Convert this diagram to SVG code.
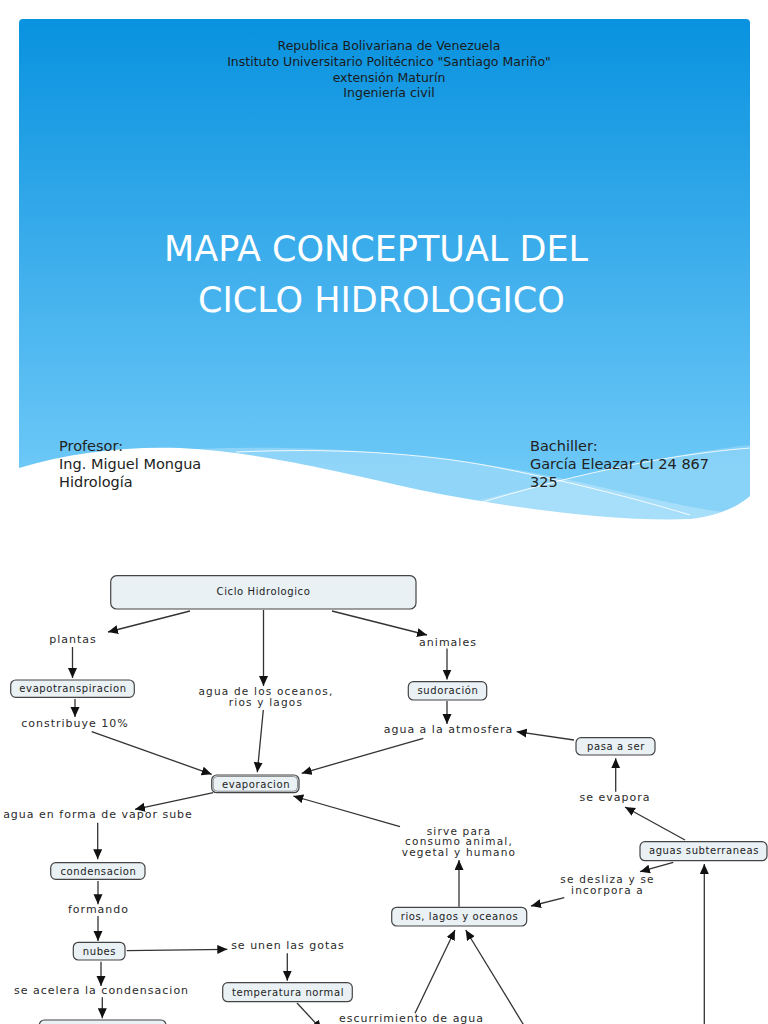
<svg xmlns="http://www.w3.org/2000/svg" width="768" height="1024" viewBox="0 0 768 1024">
<defs>
<linearGradient id="bg" x1="0" y1="19" x2="0" y2="470" gradientUnits="userSpaceOnUse">
<stop offset="0" stop-color="#0892df"/>
<stop offset="0.5" stop-color="#3aaceb"/>
<stop offset="1" stop-color="#6cc8f7"/>
</linearGradient>
<marker id="ah" markerUnits="userSpaceOnUse" markerWidth="11" markerHeight="10" refX="10" refY="4.5" orient="auto">
<path d="M0,0 L10,4.5 L0,9 Z" fill="#111"/>
</marker>
<style>
.hd{font-family:"DejaVu Sans","Noto Sans",sans-serif;font-size:12.5px;fill:#1a1a1a;text-anchor:middle}
.tt{font-family:"DejaVu Sans","Noto Sans",sans-serif;font-size:35px;fill:#ffffff}
.pf{font-family:"DejaVu Sans","Noto Sans",sans-serif;font-size:14.5px;fill:#222}
.nd{fill:#e9f1f5;stroke:#444;stroke-width:1.2}
.nt{font-family:"DejaVu Sans","Noto Sans",sans-serif;font-size:10px;letter-spacing:0.6px;fill:#222;text-anchor:middle}
.lb{font-family:"DejaVu Sans","Noto Sans",sans-serif;font-size:11px;letter-spacing:1px;fill:#2a2a2a;text-anchor:middle}
.ml{font-size:10.5px;letter-spacing:1.2px}
.cn line{stroke:#333;stroke-width:1.3;marker-end:url(#ah)}
</style>
</defs>
<rect width="768" height="1024" fill="#ffffff"/>
<g id="slide">
<path d="M19,23 Q19,19 23,19 L746,19 Q750,19 750,23 L750,535 L19,535 Z" fill="url(#bg)"/>
<path d="M150,452 C300,440 450,455 560,478 C640,495 690,510 750,515 L750,540 L150,540 Z" fill="#ffffff" opacity="0.25"/>
<path d="M440,510 C560,480 660,455 750,445 L750,540 L440,540 Z" fill="#ffffff" opacity="0.2"/>
<path d="M19,468 C70,452 130,446 180,448 C260,452 330,470 420,490 C520,510 620,522 690,519 C720,516 740,505 750,496 L750,545 L19,545 Z" fill="#ffffff"/>
<path d="M236,452 C330,448 420,452 500,468 C580,484 640,500 690,515" fill="none" stroke="#ffffff" stroke-width="1" opacity="0.85"/>
<path d="M473,505 C560,478 660,455 750,448" fill="none" stroke="#ffffff" stroke-width="1" opacity="0.85"/>
<text class="hd" x="389" y="50">Republica Bolivariana de Venezuela</text>
<text class="hd" x="389" y="66">Instituto Universitario Politécnico "Santiago Mariño"</text>
<text class="hd" x="389" y="81.5">extensión Maturín</text>
<text class="hd" x="389" y="97">Ingeniería civil</text>
<text class="tt" x="164" y="261">MAPA CONCEPTUAL DEL</text>
<text class="tt" x="198" y="312">CICLO HIDROLOGICO</text>
<text class="pf" x="59" y="451">Profesor:</text>
<text class="pf" x="59" y="469">Ing. Miguel Mongua</text>
<text class="pf" x="59" y="487">Hidrología</text>
<text class="pf" x="530" y="451">Bachiller:</text>
<text class="pf" x="530" y="469">García Eleazar CI 24 867</text>
<text class="pf" x="530" y="487">325</text>
</g>
<g id="connectors" class="cn">
<line x1="190" y1="611" x2="108" y2="632"/>
<line x1="263.5" y1="610" x2="263.5" y2="686"/>
<line x1="332" y1="611" x2="427" y2="635"/>
<line x1="72.5" y1="647" x2="72.5" y2="678"/>
<line x1="75" y1="699" x2="75" y2="717"/>
<line x1="447" y1="648.5" x2="447" y2="679.5"/>
<line x1="447" y1="701" x2="447" y2="724"/>
<line x1="91.7" y1="731.7" x2="211.7" y2="774.3"/>
<line x1="263.3" y1="710" x2="257.3" y2="772.3"/>
<line x1="423.3" y1="738.3" x2="301.7" y2="773.3"/>
<line x1="574" y1="740" x2="516.7" y2="731.7"/>
<line x1="615.7" y1="791.7" x2="615.7" y2="758.3"/>
<line x1="685" y1="840" x2="625" y2="807"/>
<line x1="400" y1="826.7" x2="293.3" y2="796"/>
<line x1="213.3" y1="792.7" x2="135" y2="809.3"/>
<line x1="97.7" y1="822.7" x2="97.7" y2="859.3"/>
<line x1="673.3" y1="862.3" x2="640" y2="871.7"/>
<line x1="564.3" y1="897.7" x2="531" y2="906"/>
<line x1="459" y1="906.7" x2="459" y2="860"/>
<line x1="98" y1="881" x2="98" y2="904.3"/>
<line x1="98" y1="916" x2="98" y2="941"/>
<line x1="126.7" y1="950.7" x2="227.3" y2="949.3"/>
<line x1="287.3" y1="953.3" x2="287.3" y2="980.7"/>
<line x1="101" y1="961.7" x2="101" y2="986"/>
<line x1="102.3" y1="997.3" x2="102.3" y2="1018.3"/>
<line x1="297" y1="1003" x2="322" y2="1030"/>
<line x1="415" y1="1013.3" x2="455" y2="930"/>
<line x1="526.7" y1="1030" x2="465.7" y2="930"/>
<line x1="704.3" y1="1030" x2="704.3" y2="864"/>
</g>
<g id="n-ciclo"><rect class="nd" x="110.7" y="575.7" width="305.3" height="33.3" rx="6"/><text class="nt" x="263.5" y="595">Ciclo Hidrologico</text></g>
<g id="n-plantas"><text class="lb" x="73" y="642.7">plantas</text></g>
<g id="n-animales"><text class="lb" x="448" y="645.7">animales</text></g>
<g id="n-evapotranspiracion"><rect class="nd" x="10.7" y="680" width="123.6" height="17.3" rx="5"/><text class="nt" x="73" y="691.5">evapotranspiracion</text></g>
<g id="n-oceanos"><text class="lb ml" x="266" y="695">agua de los oceanos,</text><text class="lb ml" x="266" y="705.5">rios y lagos</text></g>
<g id="n-sudoracion"><rect class="nd" x="408.3" y="681.7" width="78.4" height="18.3" rx="5"/><text class="nt" x="448" y="694">sudoración</text></g>
<g id="n-constribuye"><text class="lb" x="75" y="726.7">constribuye 10%</text></g>
<g id="n-atmosfera"><text class="lb" x="448.5" y="733.3">agua a la atmosfera</text></g>
<g id="n-pasa"><rect class="nd" x="576" y="737.7" width="79" height="17.3" rx="5"/><text class="nt" x="616" y="749.5">pasa a ser</text></g>
<g id="n-evaporacion"><rect class="nd" x="211.7" y="775" width="87.3" height="17.7" rx="5"/><rect x="213.2" y="776.5" width="84.3" height="14.7" rx="4" fill="none" stroke="#777" stroke-width="0.8"/><text class="nt" x="256" y="787.5">evaporacion</text></g>
<g id="n-seevapora"><text class="lb" x="615" y="800.7">se evapora</text></g>
<g id="n-vapor"><text class="lb" x="98" y="818.3">agua en forma de vapor sube</text></g>
<g id="n-sirve"><text class="lb ml" x="459" y="834.5">sirve para</text><text class="lb ml" x="459" y="845">consumo animal,</text><text class="lb ml" x="459" y="855.5">vegetal y humano</text></g>
<g id="n-subterraneas"><rect class="nd" x="640" y="841.7" width="127" height="19" rx="5"/><text class="nt" x="704" y="854">aguas subterraneas</text></g>
<g id="n-condensacion"><rect class="nd" x="50.7" y="862.7" width="94.3" height="16.6" rx="5"/><text class="nt" x="98.5" y="874.5">condensacion</text></g>
<g id="n-desliza"><text class="lb ml" x="607.5" y="883.3">se desliza y se</text><text class="lb ml" x="607.5" y="893.8">incorpora a</text></g>
<g id="n-formando"><text class="lb" x="98.5" y="913.3">formando</text></g>
<g id="n-rios"><rect class="nd" x="391.7" y="907.3" width="135" height="18.7" rx="5"/><text class="nt" x="459.5" y="920">rios, lagos y oceanos</text></g>
<g id="n-unen"><text class="lb" x="288" y="949.3">se unen las gotas</text></g>
<g id="n-nubes"><rect class="nd" x="73.3" y="942.3" width="51.7" height="17.7" rx="5"/><text class="nt" x="99.5" y="954.5">nubes</text></g>
<g id="n-acelera"><text class="lb" x="101.5" y="994">se acelera la condensacion</text></g>
<g id="n-temperatura"><rect class="nd" x="222.7" y="982.7" width="129.6" height="19" rx="5"/><text class="nt" x="288" y="995.5">temperatura normal</text></g>
<g id="n-escurrimiento"><text class="lb" x="411.5" y="1021.7">escurrimiento de agua</text></g>
<g id="n-bottom"><rect class="nd" x="39.3" y="1020" width="126.7" height="20" rx="5"/></g>
</svg>
